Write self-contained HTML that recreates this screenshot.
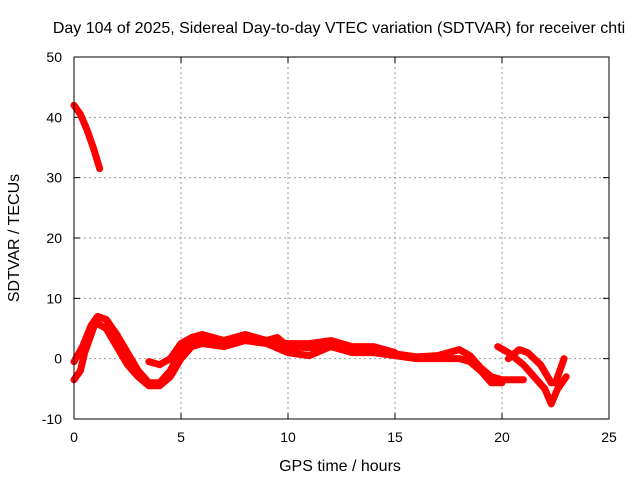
<!DOCTYPE html>
<html><head><meta charset="utf-8"><style>
body{margin:0;background:#fff}
svg text{font-family:"Liberation Sans",sans-serif;font-size:14px;fill:#000}
svg text.big{font-size:16px}
</style></head><body>
<svg width="640" height="480" id="c">
<text class="big" x="339" y="33" text-anchor="middle">Day 104 of 2025, Sidereal Day-to-day VTEC variation (SDTVAR) for receiver chti</text>
<text class="big" x="340" y="471" text-anchor="middle">GPS time / hours</text>
<text class="big" transform="translate(19,238) rotate(-90)" text-anchor="middle">SDTVAR / TECUs</text>
<g id="grid"></g><g id="series"></g>
<rect x="74" y="57" width="535" height="362" fill="none" stroke="#000"/>
</svg>
<script>
const xTicks=[0,5,10,15,20,25];
const yTicks=[-10,0,10,20,30,40,50];
const s1=[[0,42],[0.3,40.5],[0.6,38],[0.9,35],[1.2,31.5]];
const s2=[[0,-0.5],[0.4,2],[0.8,5.5],[1.1,7],[1.5,6.5],[2,4],[2.5,1],[3,-2],[3.5,-4],[4,-4],[4.5,-2],[5,1.5],[5.5,3],[6,3],[7,2.8],[8,3.5],[9,3],[9.5,3.5],[10,2],[11,1.8],[12,2.5],[13,1.5],[14,1.8],[15,0.8],[16,0.3],[17,0.5],[18,1.5],[18.5,0.5],[19,-1.5],[19.5,-3],[20,-3.5],[20.5,-3.5],[21,-3.5]];
const s3=[[0,-3.5],[0.3,-2],[0.5,1],[1,6],[1.5,5],[2,2],[2.5,-1],[3,-3],[3.5,-4.5],[4,-4.5],[4.5,-3],[5,0],[5.5,2],[6,2.5],[7,2],[8,3],[9,2.5],[10,1],[11,0.5],[12,2],[13,1],[14,1],[15,0.5],[16,0],[17,0],[18,0],[18.5,-0.5],[19,-2],[19.5,-4],[20,-4]];
const s4=[[3.5,-0.5],[4,-1],[4.5,0],[5,2.5],[5.5,3.5],[6,4],[7,3],[8,4],[9,3],[10,2.5],[11,2.5],[12,3],[13,2],[14,2],[15,1]];
const s5=[[19.8,2],[20.3,1],[21,-1],[21.5,-3],[22,-5],[22.3,-7.5],[22.6,-5],[23,-3]];
const s6=[[20.3,0],[20.8,1.5],[21.2,1],[21.8,-1],[22.3,-4],[22.5,-4],[22.9,0]];
const NS="http://www.w3.org/2000/svg";
const X=h=>74+h*21.4, Y=v=>57+(50-v)*6.033;
const g=document.getElementById('grid'), sg=document.getElementById('series');
function mk(t,a,p){const e=document.createElementNS(NS,t);for(const k in a)e.setAttribute(k,a[k]);p.appendChild(e);return e;}
xTicks.forEach(t=>{const x=X(t);
 if(t>0&&t<25){const l=mk('line',{x1:x,x2:x,y1:57,y2:419,stroke:'#999','stroke-dasharray':'2,3'},g);
 
 }
 mk('line',{x1:x,x2:x,y1:419,y2:413,stroke:'#000'},g);mk('line',{x1:x,x2:x,y1:57,y2:63,stroke:'#000'},g);
 const tx=mk('text',{x:x,y:442,'text-anchor':'middle'},g);tx.textContent=t;
 
 });
yTicks.forEach(t=>{const y=Y(t);
 if(t>-10&&t<50){const l=mk('line',{x1:74,x2:609,y1:y,y2:y,stroke:'#999','stroke-dasharray':'2,3'},g);
 
 }
 mk('line',{x1:74,x2:80,y1:y,y2:y,stroke:'#000'},g);mk('line',{x1:603,x2:609,y1:y,y2:y,stroke:'#000'},g);
 const tx=mk('text',{x:62,y:y+5,'text-anchor':'end'},g);tx.textContent=t;
 
 });
[s1,s2,s3,s4,s5,s6].forEach((s,i)=>{
 const p=mk('polyline',{points:s.map(d=>X(d[0])+','+Y(d[1])).join(' '),fill:'none',stroke:'#f00','stroke-width':7,'stroke-linejoin':'round','stroke-linecap':'round'},sg);
 
 });
</script>
</body></html>
